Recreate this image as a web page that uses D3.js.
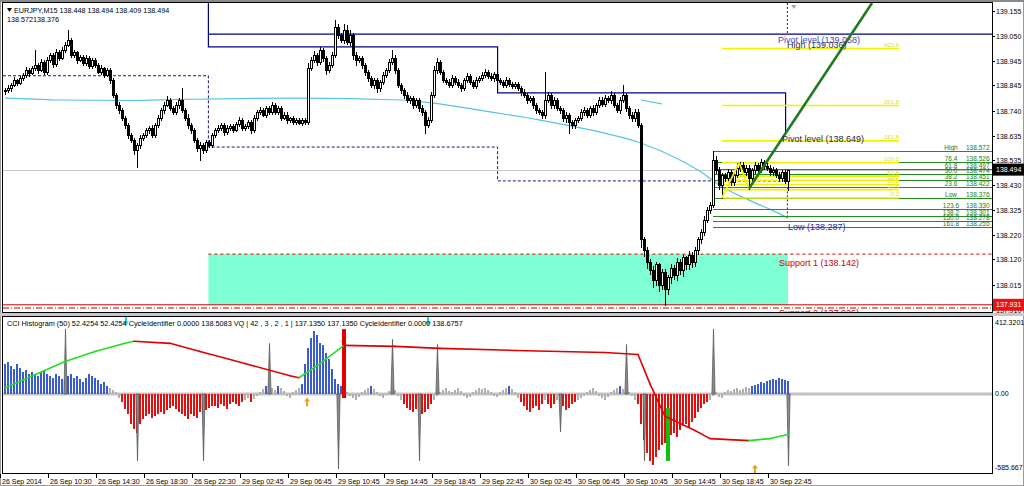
<!DOCTYPE html>
<html><head><meta charset="utf-8">
<script src="https://cdn.jsdelivr.net/npm/d3@7"></script>
<style>
html,body{margin:0;padding:0;background:#fff;}
svg{display:block;font-family:"Liberation Sans",Arial,sans-serif;}
</style></head><body>
<svg id="c" width="1024" height="486"></svg>
<script>
// ---------------- DATA ----------------
const symbol = "EURJPY,M15";
const firstOpen = 138.820;
const closes = [
138.827,138.835,138.847,138.868,138.856,138.877,138.889,138.910,138.897,138.918,
138.931,138.910,138.943,138.901,138.951,138.972,138.935,138.985,138.960,138.993,
139.014,139.035,138.972,138.985,138.951,138.964,138.939,138.960,138.926,138.951,
138.931,138.901,138.918,138.889,138.910,138.868,138.806,138.764,138.743,138.710,
138.681,138.639,138.619,138.577,138.598,138.627,138.639,138.660,138.669,138.639,
138.681,138.710,138.743,138.764,138.785,138.752,138.735,138.764,138.785,138.743,
138.710,138.681,138.660,138.619,138.585,138.598,138.577,138.610,138.598,138.639,
138.660,138.669,138.681,138.652,138.669,138.677,138.660,138.685,138.702,138.669,
138.677,138.693,138.660,138.710,138.735,138.743,138.723,138.752,138.735,138.764,
138.735,138.752,138.710,138.723,138.702,138.710,138.693,138.702,138.689,138.702,
138.693,138.918,138.951,138.972,138.943,138.993,138.960,138.910,138.931,138.972,
139.090,139.055,139.035,139.076,139.026,139.055,138.972,138.951,138.960,138.931,
138.901,138.877,138.847,138.868,138.835,138.860,138.889,138.910,138.943,138.960,
138.910,138.847,138.827,138.806,138.785,138.793,138.764,138.785,138.752,138.735,
138.681,138.702,138.806,138.910,138.943,138.901,138.868,138.860,138.847,138.877,
138.860,138.847,138.835,138.868,138.885,138.860,138.843,138.868,138.877,138.889,
138.901,138.885,138.877,138.893,138.868,138.860,138.847,138.868,138.852,138.843,
138.852,138.835,138.818,138.806,138.785,138.793,138.764,138.743,138.735,138.723,
138.785,138.806,138.764,138.785,138.752,138.743,138.710,138.723,138.693,138.681,
138.702,138.710,138.735,138.743,138.723,138.752,138.735,138.764,138.785,138.768,
138.793,138.785,138.806,138.764,138.743,138.785,138.806,138.752,138.723,138.710,
138.735,138.681,138.203,138.161,138.111,138.078,138.036,138.099,138.015,138.069,
137.995,138.045,138.086,138.057,138.111,138.078,138.128,138.099,138.140,138.111,
138.161,138.203,138.236,138.286,138.327,138.348,138.535,138.494,138.430,138.470,
138.460,138.485,138.444,138.473,138.502,138.515,138.485,138.502,138.460,138.494,
138.515,138.494,138.527,138.510,138.502,138.485,138.494,138.473,138.460,138.485,138.448,138.494];
// wick lengths in points (0.001)
const upWick = [
8,10,6,12,5,9,7,10,6,8, 60,6,10,7,14,9,6,11,8,10, 10,41,6,9,5,8,7,10,6,9, 8,6,10,5,9,7,6,8,10,6,
7,9,6,5,8,10,6,9,7,12, 8,10,6,12,14,8,9,10,7,49, 9,16,7,8,6,10,5,9,7,8, 6,9,8,7,10,6,8,9,12,7,
8,6,9,10,7,12,8,9,6,10, 8,7,6,9,10,5,8,7,6,9, 5,20,12,14,8,10,9,7,12,10, 28,12,10,25,21,20,8,10,7,9,
8,10,7,9,6,8,10,7,12,33, 10,8,9,7,10,6,9,8,7,10, 8,10,12,14,16,8,9,7,10,12, 8,10,7,9,12,8,6,10,9,12,
12,8,10,7,9,6,8,10,7,9, 8,6,9,10,7,8,9,6,8,7, 116,10,8,12,7,9,8,10,6,8, 9,8,10,12,7,9,10,8,12,10,
10,8,14,9,7,12,41,8,9,10, 10,12,8,10,12,9,14,10,8,12, 10,12,14,9,15,10,12,8,14,10, 12,10,9,14,10,12,37,15,10,12,
10,12,9,14,21,12,9,10,12,8, 10,8,12,9,10,12,10,8,10,9,8,0];
const downWick = [
10,8,12,6,9,7,10,8,12,6, 8,12,6,10,9,7,12,8,10,6, 9,7,10,8,12,6,9,10,7,8, 10,6,9,8,7,12,10,14,12,10,
12,14,10,20,71,12,10,8,12,10, 9,8,10,12,7,10,8,9,12,10, 10,12,14,10,12,50,12,10,9,8, 8,10,9,12,8,10,9,7,10,8,
10,8,12,9,10,8,7,9,10,8, 8,10,9,7,12,8,10,9,7,10, 10,8,9,7,12,10,14,16,10,8, 10,12,9,14,10,12,16,20,10,12,
12,14,10,12,16,12,10,8,9,10, 12,10,14,12,10,12,14,10,12,14, 34,10,8,9,12,10,8,9,10,8, 9,10,12,8,7,10,9,8,10,8,
9,10,8,12,9,10,8,7,10,9, 10,9,12,10,12,10,14,12,10,12, 12,10,14,12,10,12,14,16,46,14, 12,10,9,12,10,8,12,10,9,10,
9,10,12,10,8,12,10,12,14,12, 12,10,30,25,28,20,30,22,25,20, 63,20,25,18,22,20,25,18,20,22, 20,18,16,14,12,15,10,12,15,54,
12,10,12,14,10,12,15,12,45,12, 12,10,8,12,10,14,12,10,12,15,10,39];

const timeLabels = ["26 Sep 2014","26 Sep 10:30","26 Sep 14:30","26 Sep 18:30","26 Sep 22:30","29 Sep 02:45","29 Sep 06:45","29 Sep 10:45","29 Sep 14:45","29 Sep 18:45","29 Sep 22:45","30 Sep 02:45","30 Sep 06:45","30 Sep 10:45","30 Sep 14:45","30 Sep 18:45","30 Sep 22:45"];
const timeLabelBars = [0,16,32,48,64,80,96,112,128,144,160,176,192,208,224,240,256];
const priceTicks = [139.155,139.050,138.945,138.845,138.740,138.635,138.535,138.430,138.325,138.220,138.120,138.015,137.910];

// moving average (read points)
const maBars = [0,10,17,42,57,78,98,132,142,158,178,198,212,225,232,238,248,257,261];
const maVals = [138.792,138.788,138.784,138.782,138.786,138.790,138.792,138.784,138.772,138.742,138.701,138.651,138.605,138.534,138.484,138.430,138.367,138.317,138.292];
const ma2Bars = [212,219];
const ma2Vals = [138.784,138.768];

// day boundaries (bar index) and levels
const dayStarts = [0,67.8,164.2,260.2];
const dailyPivots = [139.250,139.005,138.814,138.649];
const dayOpenLevels = [138.885,138.588,138.447];
const weeklyPivot = 139.058;
const weekHigh = 139.036, weekLow = 138.287;
const support1 = 138.142, support2 = 137.926, lowMark = 137.931;
const lastPrice = 138.494;

// Fibonacci (green)
const gFibNames = ["High","76.4","61.8","50.0","38.2","23.6","Low","123.6","138.2","150.0","161.8"];
const gFibPrices = [138.572,138.526,138.497,138.474,138.451,138.422,138.376,138.330,138.301,138.278,138.255];
const gFibStartBar = 236;
// Fibonacci (yellow)
const yFibLevels = [0,23.6,38.2,50,61.8,100,161.8,261.8,423.6];
const yFibLow = 138.376, yFibHigh = 138.523;
const yFibBars = [239, 298];
// zigzag & trend
const zzBars = [239,244.7,248];
const zzPrices = [138.376,138.523,138.415];
const trendBars = [248,289];
const trendPrices = [138.415,139.188];

// indicator: CCI histogram
const cci = [
120,128,112,100,120,104,88,96,80,88, 80,72,88,96,80,72,64,80,72,60, 56,72,80,64,72,60,48,64,80,72, 64,56,40,48,32,24,16,8,-16,-32,
-60,-80,-120,-140,-152,-120,-100,-88,-80,-96, -88,-80,-72,-80,-64,-56,-48,-60,-72,-80, -88,-100,-80,-88,-96,-72,-80,-64,-56,-48,
-48,-56,-40,-48,-60,-40,-32,-40,-48,-32, -24,-16,-32,-20,-8,8,20,32,40,24, 16,32,24,12,-8,-16,8,16,24,40,
120,180,220,248,232,200,192,160,140,100, 60,40,32,16,8,-8,-16,-24,-12,8, 16,24,32,20,8,-8,-16,-4,12,20,
16,-8,-24,-40,-56,-64,-72,-60,-48,-80, -72,-60,-40,-24,-8,8,16,24,12,8, 16,24,12,-8,-16,-12,8,16,24,20,
24,16,8,-8,-12,8,16,24,32,20, 8,-16,-32,-48,-64,-72,-56,-48,-64,-40, -24,-40,-56,-40,-24,-32,-48,-64,-56,-40,
-32,-24,-16,-8,8,16,24,12,-8,-16, -24,-12,8,16,24,32,20,12,8,-8, -24,-40,-120,-180,-232,-264,-280,-248,-220,-200,
-192,-176,-160,-152,-168,-144,-128,-120,-136,-112, -96,-72,-56,-40,-32,-24,-8,8,-12,-16, 8,16,12,20,24,16,20,28,24,32,
36,40,48,44,52,56,60,56,64,60,56,52.4254];
// signal line (read points)
const sigBars = [0,10,20,30,40,43,55,65,80,95,98,105,113,130,145,170,200,211,215,220,230,235,248,255,261];
const sigVals = [24,76,128,168,200,208,200,168,120,72,64,120,192,188,180,172,164,156,40,-88,-144,-176,-184,-176,-160];
// cycle identifier spikes
const spikeBars = [20,44,66,88,111,129,138,144,185,207,213,236,261];
const spikeVals = [256,-264,-264,200,-296,216,-264,196,-150,196,-264,256,-284];
// VQ thick bars
const vqBars = [113,221];
const vqTop = [256,-56];
const vqBottom = [-16,-264];
const vqDir = ["down","up"];
// arrows
const arrowBars = [40.3,141,100.7,250];
const arrowDir = ["down","down","up","up"];
const arrowVals = [290,290,-14,-278];
const indLabels = ["412.3201","0.00","-585.667"];

// ---------------- DRAW ----------------
const svg = d3.select("#c");
const L=3,R=992,T=3,B=312,IT=316,IB=474;
const f3 = d3.format(".3f");
const x = d3.scaleLinear().domain([0, closes.length-1]).range([5, 788]);
const y = d3.scaleLinear().domain([137.901, 139.188]).range([B, T]);
const yi = d3.scaleLinear().domain([-300,300]).range([470,318]);

svg.append("rect").attr("width",1024).attr("height",486).attr("fill","#fff");
const defs = svg.append("defs");
defs.append("clipPath").attr("id","cm").append("rect").attr("x",L).attr("y",T).attr("width",R-L).attr("height",B-T);
defs.append("clipPath").attr("id","ci").append("rect").attr("x",L).attr("y",IT+1).attr("width",R-L).attr("height",IB-IT-1);

const main = svg.append("g").attr("clip-path","url(#cm)");

// support zone
main.append("rect").attr("x",x(dayStarts[1])).attr("y",y(support1))
  .attr("width",x(closes.length-1)-x(dayStarts[1])).attr("height",y(lowMark)-y(support1))
  .attr("fill","#7fffd4");

// current price line
main.append("line").attr("x1",L).attr("x2",R).attr("y1",Math.round(y(lastPrice))+0.5).attr("y2",Math.round(y(lastPrice))+0.5)
  .attr("stroke","#c8c8c8").attr("stroke-width",1);

// MA lines
const maLine = d3.line().x(d=>x(d[0])).y(d=>y(d[1])).curve(d3.curveMonotoneX);
main.append("path").attr("d",maLine(maBars.map((b,i)=>[b,maVals[i]]))).attr("fill","none").attr("stroke","#58c4e4").attr("stroke-width",1.2);
main.append("path").attr("d",maLine(ma2Bars.map((b,i)=>[b,ma2Vals[i]]))).attr("fill","none").attr("stroke","#58c4e4").attr("stroke-width",1.2);

// dashed day-open lines
{
  let d = `M${L},${y(dayOpenLevels[0])}`;
  for (let i=0;i<dayOpenLevels.length;i++){
    d += ` H${x(dayStarts[i+1])}`;
    if (i+1<dayOpenLevels.length) d += ` V${y(dayOpenLevels[i+1])}`;
  }
  main.append("path").attr("d",d).attr("fill","none").attr("stroke","#1a1a7a").attr("stroke-width",1).attr("stroke-dasharray","3,2");
}
// pivot steps
{
  let d = `M${L},${y(dailyPivots[0])}`;
  for (let i=0;i<dailyPivots.length-1;i++){
    d += ` H${x(dayStarts[i+1])} V${y(dailyPivots[i+1])}`;
  }
  main.append("path").attr("d",d).attr("fill","none").attr("stroke","#000080").attr("stroke-width",1.2);
  main.append("line").attr("x1",x(dayStarts[1])).attr("x2",R).attr("y1",y(weeklyPivot)).attr("y2",y(weeklyPivot))
    .attr("stroke","#000080").attr("stroke-width",1.2);
}
// high/low dashed markers
const mX = x(260.8);
main.append("line").attr("x1",mX).attr("x2",mX).attr("y1",T).attr("y2",y(weeklyPivot)).attr("stroke","#1a1a7a").attr("stroke-dasharray","2,2");
main.append("line").attr("x1",mX).attr("x2",mX).attr("y1",y(138.420)).attr("y2",y(weekLow)).attr("stroke","#1a1a7a").attr("stroke-dasharray","2,2");
main.append("path").attr("d",`M${mX+4},${T+2} l5,0 l-2.5,4 z`).attr("fill","#a0a0a0");

// support lines
main.append("line").attr("x1",x(dayStarts[1])).attr("x2",R).attr("y1",y(support1)).attr("y2",y(support1))
  .attr("stroke","#cc0000").attr("stroke-dasharray","3,3");
main.append("line").attr("x1",L).attr("x2",R).attr("y1",y(lowMark)).attr("y2",y(lowMark)).attr("stroke","#cc0000").attr("stroke-width",1);
main.append("line").attr("x1",L).attr("x2",R).attr("y1",y(support2)+2).attr("y2",y(support2)+2)
  .attr("stroke","#cc0000").attr("stroke-dasharray","6,2,1,2");

// green fib lines
main.selectAll("line.gf").data(gFibPrices).join("line").attr("class","gf")
  .attr("x1",x(gFibStartBar)).attr("x2",R).attr("y1",d=>Math.round(y(d))+0.5).attr("y2",d=>Math.round(y(d))+0.5)
  .attr("stroke","#228b22").attr("stroke-width",1);
// yellow fib lines
const yFibPrice = l => yFibLow + l/100*(yFibHigh-yFibLow);
main.selectAll("line.yf").data(yFibLevels).join("line").attr("class","yf")
  .attr("x1",x(yFibBars[0])).attr("x2",x(yFibBars[1])).attr("y1",d=>y(yFibPrice(d))).attr("y2",d=>y(yFibPrice(d)))
  .attr("stroke","#f2f200").attr("stroke-width",1.6);

// candles
const candles = closes.map((c,i)=>{
  const o = i===0 ? firstOpen : closes[i-1];
  return {i,o,c,h:Math.max(o,c)+upWick[i]/1000,l:Math.min(o,c)-downWick[i]/1000};
});
const cg = main.append("g").attr("shape-rendering","crispEdges");
cg.selectAll("line").data(candles).join("line")
  .attr("x1",d=>Math.round(x(d.i))+0.5).attr("x2",d=>Math.round(x(d.i))+0.5)
  .attr("y1",d=>Math.round(y(d.h))).attr("y2",d=>Math.round(y(d.l))+1)
  .attr("stroke","#000").attr("stroke-width",1);
cg.selectAll("rect").data(candles).join("rect")
  .attr("x",d=>Math.round(x(d.i))-0.5)
  .attr("y",d=>Math.round(y(Math.max(d.o,d.c)))+0.5)
  .attr("width",2)
  .attr("height",d=>Math.max(Math.round(y(Math.min(d.o,d.c)))-Math.round(y(Math.max(d.o,d.c))),0))
  .attr("fill",d=>d.c>=d.o?"#fff":"#000").attr("stroke","#000").attr("stroke-width",1);

// zigzag and trend line
main.append("path").attr("d",d3.line()(zzBars.map((b,i)=>[x(b),y(zzPrices[i])]))).attr("fill","none").attr("stroke","#f2f200").attr("stroke-width",1.8);
main.append("path").attr("d",d3.line()(trendBars.map((b,i)=>[x(b),y(trendPrices[i])]))).attr("fill","none").attr("stroke","#1e7b1e").attr("stroke-width",2.6);

// labels on main
const lab = (t,px,py,col,fs)=>main.append("text").attr("x",px).attr("y",py).text(t).attr("fill",col).attr("font-size",fs);
lab(`Pivot level (${f3(weeklyPivot)})`,778,y(weeklyPivot)+9,"#4a4ab0",9);
lab(`High (${f3(weekHigh)})`,787,y(weekHigh)+8.5,"#34344c",9);
lab(`Pivot level (${f3(dailyPivots[3])})`,782,y(dailyPivots[3])+9.5,"#24245e",9);
lab(`Low (${f3(weekLow)})`,788,y(weekLow)+11,"#2a2aa0",9);
lab(`Support 1 (${f3(support1)})`,779,y(support1)+12,"#cc0000",9);
lab(`Support 2 (${f3(support2)})`,779,y(support2)+10,"#cc0000",9);
// green fib labels
gFibNames.forEach((n,i)=>{
  main.append("text").attr("x",951).attr("y",Math.round(y(gFibPrices[i]))-1).attr("text-anchor","middle").text(n).attr("fill","#1a7a1a").attr("font-size",6.5);
  main.append("text").attr("x",966).attr("y",Math.round(y(gFibPrices[i]))-1).text(f3(gFibPrices[i])).attr("fill","#1a7a1a").attr("font-size",6.5);
});
// yellow fib labels
yFibLevels.forEach(l=>{
  main.append("text").attr("x",x(yFibBars[1])).attr("y",y(yFibPrice(l))-1.5).attr("text-anchor","end").text(d3.format(".1f")(l)).attr("fill","#e4e400").attr("font-size",6);
});

// header
const last = candles[candles.length-1];
svg.append("path").attr("d","M7,8 l5,0 l-2.5,4 z").attr("fill","#000");
svg.append("text").attr("x",14).attr("y",12.5).attr("font-size",7.2).attr("fill","#000")
  .text(`${symbol}  ${f3(last.o)} ${f3(last.h)} ${f3(last.l)} ${f3(last.c)}`);
svg.append("text").attr("x",7).attr("y",22).attr("font-size",7.2).attr("fill","#000")
  .text(`${f3(gFibPrices[0])}${f3(gFibPrices[6])}`);

// ---- indicator pane ----
const ind = svg.append("g").attr("clip-path","url(#ci)");
ind.append("rect").attr("x",L).attr("y",yi(0)-1.5).attr("width",R-L).attr("height",3).attr("fill","#c4c4c4");
const ig = ind.append("g").attr("shape-rendering","crispEdges");
ig.selectAll("rect").data(cci).join("rect")
  .attr("x",(d,i)=>Math.round(x(i))-1).attr("width",2)
  .attr("y",d=>yi(Math.max(d,0))).attr("height",d=>Math.abs(yi(d)-yi(0)))
  .attr("fill",d=>d>=30?"#3a5ccc":(d<=-30?"#e01010":"#b0b0b0"));
// spikes
spikeBars.forEach((b,i)=>{
  const xc = Math.round(x(b))+0.5, y0 = yi(0), yt = yi(spikeVals[i]);
  ind.append("path").attr("d",`M${xc-1.6},${y0} L${xc},${yt} L${xc+1.6},${y0} Z`).attr("fill","#8a8a8a").attr("stroke","#505050").attr("stroke-width",0.7);
});
// VQ bars
vqBars.forEach((b,i)=>{
  ind.append("rect").attr("x",Math.round(x(b))-2).attr("width",4).attr("y",yi(vqTop[i])).attr("height",yi(vqBottom[i])-yi(vqTop[i]))
    .attr("fill",vqDir[i]==="down"?"#e00000":"#10c010");
});
// signal line colored by direction
for (let k=0;k<sigBars.length-1;k++){
  const up = sigVals[k+1]>=sigVals[k];
  ind.append("line").attr("x1",x(sigBars[k])).attr("y1",yi(sigVals[k])).attr("x2",x(sigBars[k+1])).attr("y2",yi(sigVals[k+1]))
    .attr("stroke",up?"#22dd22":"#e00000").attr("stroke-width",1.6).attr("stroke-linecap","round");
}
// arrows
arrowBars.forEach((b,i)=>{
  const xc = x(b), yc = yi(arrowVals[i]);
  const col = arrowDir[i]==="down" ? "#20d0e0" : "#f0a020";
  const d = arrowDir[i]==="down"
    ? `M${xc},${yc+5} L${xc-3},${yc+1} L${xc-1},${yc+1} L${xc-1},${yc-4} L${xc+1},${yc-4} L${xc+1},${yc+1} L${xc+3},${yc+1} Z`
    : `M${xc},${yc} L${xc-3},${yc+4} L${xc-1},${yc+4} L${xc-1},${yc+9} L${xc+1},${yc+9} L${xc+1},${yc+4} L${xc+3},${yc+4} Z`;
  ind.append("path").attr("d",d).attr("fill",col);
});
svg.append("text").attr("x",7).attr("y",326).attr("font-size",7.3).attr("fill","#000")
  .text(`CCI Histogram (50) ${cci[cci.length-1].toFixed(4)} ${cci[cci.length-1].toFixed(4)}  CycleIdentifier 0.0000 138.5083  VQ |  42 , 3 , 2 , 1  |  137.1350 137.1350  CycleIdentifier 0.0000 138.6757`);

// ---- frames ----
svg.append("rect").attr("x",0.5).attr("y",0.5).attr("width",1023).attr("height",485).attr("fill","none").attr("stroke","#9a9a9a");
svg.append("rect").attr("x",0).attr("y",0).attr("width",1024).attr("height",2).attr("fill","#8a8a8a");
svg.append("rect").attr("x",0).attr("y",B+1).attr("width",1024).attr("height",IT-B-1).attr("fill","#c8c8c8");
svg.append("rect").attr("x",L-0.5).attr("y",T-0.5).attr("width",R-L+1).attr("height",B-T+1).attr("fill","none").attr("stroke","#000");
svg.append("rect").attr("x",L-0.5).attr("y",IT+0.5).attr("width",R-L+1).attr("height",IB-IT-1).attr("fill","none").attr("stroke","#000");

// right price axis
const ax = svg.append("g");
priceTicks.forEach(p=>{
  const yy = Math.round(y(p))+0.5;
  ax.append("line").attr("x1",R).attr("x2",R+3).attr("y1",yy).attr("y2",yy).attr("stroke","#000");
  ax.append("text").attr("x",996).attr("y",yy).attr("dy","0.35em").attr("font-size",7).attr("fill","#000").text(f3(p));
});
// price boxes
[[lastPrice,"#000"],[lowMark,"#ee1111"]].forEach(([p,col])=>{
  const yy = y(p);
  ax.append("rect").attr("x",R+1).attr("y",yy-6).attr("width",31).attr("height",12).attr("fill",col);
  ax.append("text").attr("x",996).attr("y",yy).attr("dy","0.35em").attr("font-size",7).attr("fill","#fff").text(f3(p));
});
// indicator axis labels
[[indLabels[0],323],[indLabels[1],yi(0)],[indLabels[2],468]].forEach(([t,yy])=>{
  ax.append("text").attr("x",995).attr("y",yy).attr("dy","0.35em").attr("font-size",7).attr("fill","#000").text(t);
});
// time axis
timeLabelBars.forEach((b,i)=>{
  const xx = Math.round(x(b))-4.5;
  ax.append("line").attr("x1",xx).attr("x2",xx).attr("y1",IB).attr("y2",IB+4).attr("stroke","#000");
  ax.append("text").attr("x",xx+1.5).attr("y",484).attr("font-size",7).attr("fill","#000").text(timeLabels[i]);
});
</script>
</body></html>
